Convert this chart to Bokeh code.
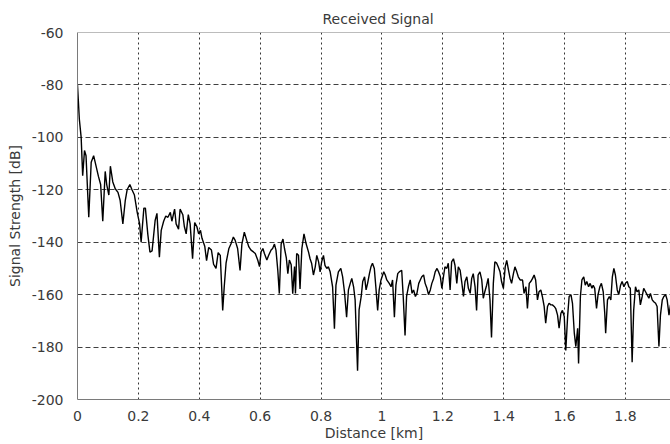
from bokeh.plotting import figure
from bokeh.models import ColumnDataSource, FixedTicker, Span, Range1d
from bokeh.embed import file_html
from bokeh.resources import INLINE

# ---- data ----
distance_km = [
    0.000, 0.006, 0.012, 0.017, 0.023, 0.028, 0.037, 0.045, 0.053, 0.061, 0.069, 0.076, 0.083, 0.091, 0.096,
    0.103, 0.108, 0.116, 0.124, 0.133, 0.140, 0.149, 0.157, 0.163, 0.172, 0.179, 0.187, 0.196, 0.204, 0.209,
    0.218, 0.223, 0.231, 0.238, 0.245, 0.255, 0.261, 0.269, 0.275, 0.283, 0.290, 0.297, 0.305, 0.310, 0.319,
    0.324, 0.332, 0.337, 0.346, 0.351, 0.357, 0.364, 0.370, 0.378, 0.385, 0.392, 0.398, 0.404, 0.409, 0.418,
    0.424, 0.431, 0.440, 0.447, 0.455, 0.462, 0.469, 0.477, 0.482, 0.488, 0.497, 0.504, 0.512, 0.518, 0.526,
    0.534, 0.540, 0.548, 0.556, 0.563, 0.570, 0.578, 0.584, 0.592, 0.598, 0.603, 0.609, 0.614, 0.622, 0.628,
    0.636, 0.641, 0.647, 0.652, 0.658, 0.663, 0.669, 0.675, 0.680, 0.686, 0.691, 0.696, 0.702, 0.707, 0.713,
    0.716, 0.720, 0.726, 0.731, 0.737, 0.744, 0.751, 0.759, 0.764, 0.769, 0.775, 0.781, 0.786, 0.792, 0.797,
    0.802, 0.808, 0.813, 0.819, 0.824, 0.830, 0.838, 0.844, 0.849, 0.857, 0.865, 0.871, 0.877, 0.884, 0.890,
    0.896, 0.901, 0.907, 0.912, 0.920, 0.925, 0.932, 0.937, 0.943, 0.948, 0.953, 0.959, 0.964, 0.969, 0.975,
    0.980, 0.986, 0.991, 0.997, 1.006, 1.011, 1.016, 1.024, 1.030, 1.035, 1.041, 1.046, 1.052, 1.057, 1.065,
    1.070, 1.076, 1.081, 1.087, 1.093, 1.099, 1.104, 1.110, 1.115, 1.121, 1.126, 1.131, 1.137, 1.142, 1.148,
    1.153, 1.159, 1.164, 1.170, 1.175, 1.181, 1.186, 1.192, 1.197, 1.203, 1.207, 1.213, 1.218, 1.224, 1.229,
    1.235, 1.240, 1.246, 1.251, 1.257, 1.262, 1.268, 1.273, 1.279, 1.284, 1.290, 1.295, 1.300, 1.306, 1.311,
    1.316, 1.322, 1.328, 1.333, 1.338, 1.344, 1.349, 1.355, 1.360, 1.366, 1.371, 1.377, 1.382, 1.388, 1.393,
    1.399, 1.405, 1.410, 1.416, 1.421, 1.426, 1.432, 1.437, 1.443, 1.448, 1.454, 1.462, 1.467, 1.473, 1.478,
    1.484, 1.489, 1.495, 1.500, 1.505, 1.511, 1.516, 1.522, 1.527, 1.533, 1.538, 1.544, 1.549, 1.555, 1.560,
    1.566, 1.571, 1.577, 1.582, 1.588, 1.593, 1.599, 1.604, 1.610, 1.615, 1.621, 1.626, 1.632, 1.637, 1.643,
    1.646, 1.652, 1.657, 1.663, 1.668, 1.673, 1.679, 1.684, 1.690, 1.694, 1.699, 1.705, 1.710, 1.716, 1.721,
    1.727, 1.732, 1.735, 1.741, 1.747, 1.752, 1.757, 1.762, 1.767, 1.773, 1.778, 1.784, 1.789, 1.795, 1.800,
    1.806, 1.811, 1.816, 1.822, 1.827, 1.833, 1.838, 1.844, 1.849, 1.855, 1.860, 1.866, 1.871, 1.877, 1.882,
    1.888, 1.893, 1.899, 1.904, 1.910, 1.915, 1.921, 1.926, 1.932, 1.937, 1.943, 1.948,
]
signal_db = [
    -80, -93, -100, -114.6, -105, -107, -130.5, -109.5, -107, -111, -115, -118, -132, -113, -118,
    -122, -111, -117, -119.6, -121, -124, -133, -124, -120, -118, -120, -122, -128.5, -133, -140,
    -127, -127, -137, -143.8, -143.3, -131.7, -129, -145.7, -135.5, -132, -130, -130.5, -128.6, -132, -127.4,
    -133, -135, -127.4, -129.5, -134, -136.8, -129.5, -133, -146.3, -132.5, -134, -136.8, -135.5, -138.5, -141.5,
    -147, -142, -143, -148.4, -150, -144, -145, -166, -157, -148, -142.5, -140.7, -138, -139.3, -142.4,
    -150.8, -140.7, -136.2, -139.3, -141.8, -143, -143.7, -144.3, -146.8, -149.3, -143.7, -142.4, -144.3, -146.8, -145,
    -143, -142.4, -140.7, -143, -150.8, -159.6, -140.7, -138.8, -142.4, -146, -152, -146.8, -148.6, -159.6, -149.3,
    -159.6, -144.3, -145, -157.8, -142.5, -136.8, -140.6, -143.8, -146.3, -148, -152.5, -149.4, -145, -147.5, -151.3,
    -147.5, -145, -148.8, -150, -149.4, -151.3, -157, -173, -156.4, -151.3, -150, -153.2, -158.9, -168.6, -158.2,
    -155.7, -153.8, -157, -162, -189, -165.8, -160.7, -155, -153.2, -158.2, -155.7, -152, -149.4, -148, -150,
    -157, -166, -158.2, -154.4, -151.3, -152.5, -154.4, -155.7, -157, -154.4, -168.6, -156.4, -152, -151.3, -150.7,
    -160.7, -175.6, -160.7, -157, -154.4, -159.5, -158.2, -160.7, -159.5, -155.7, -154.4, -153.2, -152.5, -155.7, -157.6,
    -160, -158.2, -155.7, -153.8, -151.3, -150, -151.3, -153.2, -157.6, -152.5, -149.4, -150, -148, -158.2, -147.5,
    -146.3, -148.8, -155.7, -149.4, -150.7, -155, -160.7, -155, -153.2, -157.6, -159.5, -153.8, -152, -157, -166,
    -152.5, -151.3, -154.4, -161.4, -158.9, -156.4, -153.8, -162, -176.3, -155.7, -147.5, -148, -149.4, -151.3, -155,
    -157.6, -149.4, -146.9, -150.7, -153.8, -155.7, -152, -149.4, -151.3, -153.2, -154.4, -154.4, -159.5, -157, -165.3,
    -155.7, -155, -153.8, -152.5, -154.4, -162, -158.9, -158.2, -160.7, -164.5, -170.9, -164.5, -163.3, -163.9, -163.9,
    -164.5, -165.3, -167.8, -172.8, -167.1, -166, -168.4, -181.3, -168.4, -160.7, -160, -163.3, -174.7, -179.8, -172.8,
    -186.3, -160.7, -154.4, -153.2, -156.4, -155, -157, -155.7, -157.6, -156.4, -157.6, -165.3, -160, -157, -155.7,
    -158.9, -167.1, -174.7, -162, -160.7, -162, -153.2, -150, -152.5, -158.2, -160, -156.4, -155, -157, -155.7,
    -155, -157, -157.6, -185.8, -166, -157, -158.9, -158.2, -163.9, -160.7, -157.6, -158.9, -160, -161.4, -159.5,
    -162, -162.7, -163.3, -164.5, -179.8, -167.8, -162, -160.7, -160, -162, -167.8, -163.9,
]

x_ticks = [0, 0.2, 0.4, 0.6, 0.8, 1.0, 1.2, 1.4, 1.6, 1.8]
x_tick_labels = ["0", "0.2", "0.4", "0.6", "0.8", "1", "1.2", "1.4", "1.6", "1.8"]
y_ticks = [-200, -180, -160, -140, -120, -100, -80, -60]
y_tick_labels = ["-200", "-180", "-160", "-140", "-120", "-100", "-80", "-60"]

title_text = "Received Signal"
x_label = "Distance [km]"
y_label = "Signal Strength [dB]"

FONT = "DejaVu Sans"
TEXT_COLOR = "#3a3a3a"
AXIS_COLOR = "#7a7a7a"

src = ColumnDataSource(data=dict(x=distance_km, y=signal_db))

p = figure(
    width=670, height=444,
    output_backend="svg", toolbar_location=None,
    x_range=Range1d(0, 1.948), y_range=Range1d(-200, -60),
    min_border_left=77, min_border_right=0, min_border_top=32, min_border_bottom=45,
    background_fill_color="white", border_fill_color="white",
    title=title_text,
)
p.outline_line_color = None

# title
p.title.align = "left"
p.title.offset = 245
p.title.standoff = 12
p.title.text_font = FONT
p.title.text_font_size = "14px"
p.title.text_font_style = "normal"
p.title.text_color = TEXT_COLOR

p.line("x", "y", source=src, line_color="black", line_width=1.4)

# axes
p.xaxis.ticker = FixedTicker(ticks=x_ticks)
p.xaxis.major_label_overrides = {t: l for t, l in zip(x_ticks, x_tick_labels)}
p.yaxis.ticker = FixedTicker(ticks=y_ticks)
p.yaxis.major_label_overrides = {t: l for t, l in zip(y_ticks, y_tick_labels)}
p.xaxis.axis_label = x_label
p.yaxis.axis_label = y_label
for ax in (p.xaxis, p.yaxis):
    ax.axis_line_color = AXIS_COLOR
    ax.axis_line_width = 1
    ax.major_tick_line_color = None
    ax.minor_tick_line_color = None
    ax.major_label_text_font = FONT
    ax.major_label_text_font_size = "14px"
    ax.major_label_text_color = TEXT_COLOR
    ax.axis_label_text_font = FONT
    ax.axis_label_text_font_size = "14px"
    ax.axis_label_text_font_style = "normal"
    ax.axis_label_text_color = TEXT_COLOR
p.xaxis.major_label_standoff = 5
p.yaxis.major_label_standoff = 8
p.xaxis.axis_label_standoff = 1
p.yaxis.axis_label_standoff = 6

# grid
p.xgrid.ticker = FixedTicker(ticks=x_ticks)
p.ygrid.ticker = FixedTicker(ticks=y_ticks)
p.xgrid.grid_line_color = "black"
p.xgrid.grid_line_alpha = 0.8
p.xgrid.grid_line_dash = "2 3"
p.xgrid.grid_line_width = 1
p.ygrid.grid_line_color = "black"
p.ygrid.grid_line_alpha = 0.75
p.ygrid.grid_line_dash = "5 3"
p.ygrid.grid_line_width = 1

# top frame line
p.add_layout(Span(location=-60, dimension="width", line_color=AXIS_COLOR, line_width=1))

open("out.html", "w").write(file_html(p, INLINE))
